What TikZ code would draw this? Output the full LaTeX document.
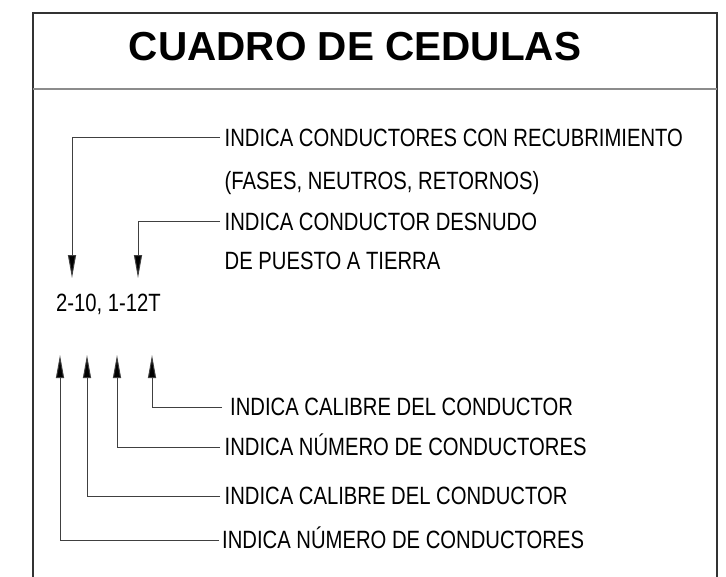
\documentclass[tikz,border=0pt]{standalone}
\usepackage{fontspec}
\setmainfont{Liberation Sans}
\newfontfamily\lblfont{Liberation Sans}[FakeStretch=0.81]
\newfontfamily\ttlfont{Liberation Sans}[FakeStretch=1.0]
\usetikzlibrary{arrows.meta}
\begin{document}
\begin{tikzpicture}[x=1pt,y=-1pt,
  framel/.style={draw=black!80,line width=1.6pt},
  sepl/.style={draw=black!45,line width=1.6pt},
  lbl/.style={anchor=west,inner xsep=4.5pt,inner ysep=0pt,text height=17.9pt,text depth=0pt,
     font=\lblfont\fontsize{25}{30}\selectfont},
  ttl/.style={inner sep=0pt,font=\ttlfont\bfseries\fontsize{40.5}{48}\selectfont},
  lead/.style={draw=black!75,line width=1pt,-{Triangle[length=23pt,width=8pt,fill=black]}}]
\useasboundingbox (0,0) rectangle (726,576);
% frame
\draw[framel] (33,580) -- (33,13) -- (717,13) -- (717,580);
\draw[sepl] (33,89) -- (717,89);
\node[ttl] (title) at (355,47) {CUADRO DE CEDULAS};
% top texts
\node[lbl] (t1) at (220,137.5) {INDICA CONDUCTORES CON RECUBRIMIENTO};
\node[lbl] (t2) at (220,181) {(FASES, NEUTROS, RETORNOS)};
\node[lbl] (t3) at (220,221.5) {INDICA CONDUCTOR DESNUDO};
\node[lbl] (t4) at (220,261) {DE PUESTO A TIERRA};
\node[lbl,inner xsep=0pt] (code) at (56,303) {2-10, 1-12T};
% bottom texts
\node[lbl,inner xsep=8pt] (b1) at (222,407) {INDICA CALIBRE DEL CONDUCTOR};
\node[lbl] (b2) at (220,447) {INDICA NÚMERO DE CONDUCTORES};
\node[lbl] (b3) at (220,496) {INDICA CALIBRE DEL CONDUCTOR};
\node[lbl,inner xsep=3pt] (b4) at (219,540) {INDICA NÚMERO DE CONDUCTORES};
% arrow tips
\coordinate (a1) at (72,278);
\coordinate (a2) at (138,278);
\coordinate (c1) at (152,355);
\coordinate (c2) at (117,355);
\coordinate (c3) at (87,355);
\coordinate (c4) at (60,355);
% leaders
\draw[lead] (t1.west) -| (a1);
\draw[lead] (t3.west) -| (a2);
\draw[lead] (b1.west) -| (c1);
\draw[lead] (b2.west) -| (c2);
\draw[lead] (b3.west) -| (c3);
\draw[lead] (b4.west) -| (c4);
\end{tikzpicture}
\end{document}
